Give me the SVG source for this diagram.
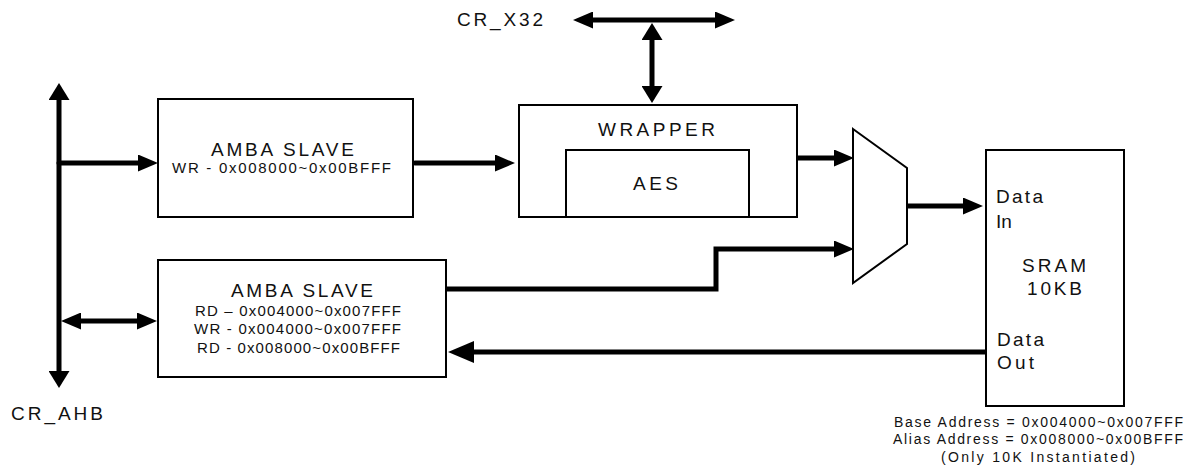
<svg xmlns="http://www.w3.org/2000/svg" width="1198" height="467" viewBox="0 0 1198 467">
<style>
.box{fill:#fff;stroke:#000;stroke-width:2}
.t{font-family:"Liberation Sans",Arial,sans-serif;fill:#111}
.big{font-size:19px}
.small{font-size:15px}
.note{font-size:14px}
.w{fill:none;stroke:#000;stroke-width:5;stroke-linecap:round;stroke-linejoin:miter}
</style>
<defs>
<marker id="a1" markerWidth="20" markerHeight="17" refX="10" refY="8.5" orient="auto-start-reverse" markerUnits="userSpaceOnUse"><path d="M0,0 L20,8.5 L0,17 z" fill="#000"/></marker>
<marker id="a2" markerWidth="17" markerHeight="21" refX="7" refY="10.5" orient="auto-start-reverse" markerUnits="userSpaceOnUse"><path d="M0,0 L17,10.5 L0,21 z" fill="#000"/></marker>
<marker id="a3" markerWidth="26" markerHeight="22" refX="16" refY="11" orient="auto-start-reverse" markerUnits="userSpaceOnUse"><path d="M0,0 L26,11 L0,22 z" fill="#000"/></marker>
</defs>

<g id="connectors">
<path class="w" d="M59,93 V378" marker-start="url(#a2)" marker-end="url(#a2)"/>
<path class="w" d="M583,20 H725" marker-start="url(#a1)" marker-end="url(#a1)"/>
<path class="w" d="M652,33 V93" marker-start="url(#a2)" marker-end="url(#a2)"/>
<path class="w" d="M59,163 H148" marker-end="url(#a1)"/>
<path class="w" d="M415,163 H505" marker-end="url(#a1)"/>
<path class="w" d="M796,158 H844" marker-end="url(#a1)"/>
<path class="w" d="M444,289 H716 V249 H844" marker-end="url(#a1)"/>
<path class="w" d="M907,206 H973" marker-end="url(#a1)"/>
<path class="w" d="M71,321 H147" marker-start="url(#a1)" marker-end="url(#a1)"/>
<path class="w" d="M988,352 H458" marker-end="url(#a3)"/>
</g>

<g id="amba1">
<rect class="box" x="158" y="99" width="255" height="118"/>
<text class="t big" x="211" y="156" textLength="143" lengthAdjust="spacing">AMBA SLAVE</text>
<text class="t small" x="172" y="173" textLength="219" lengthAdjust="spacing">WR - 0x008000~0x00BFFF</text>
</g>

<g id="amba2">
<rect class="box" x="158" y="260" width="288" height="117"/>
<text class="t big" x="231" y="297" textLength="142" lengthAdjust="spacing">AMBA SLAVE</text>
<text class="t small" x="195" y="316" textLength="206" lengthAdjust="spacing">RD – 0x004000~0x007FFF</text>
<text class="t small" x="194" y="334" textLength="207" lengthAdjust="spacing">WR - 0x004000~0x007FFF</text>
<text class="t small" x="197" y="353" textLength="203" lengthAdjust="spacing">RD - 0x008000~0x00BFFF</text>
</g>

<g id="wrapper">
<rect class="box" x="519" y="105" width="278" height="112"/>
<text class="t big" x="598" y="136" textLength="117" lengthAdjust="spacing">WRAPPER</text>
</g>

<g id="aes">
<rect class="box" x="566" y="150" width="183" height="67"/>
<text class="t big" x="633" y="190" textLength="45" lengthAdjust="spacing">AES</text>
</g>

<g id="mux">
<polygon class="box" points="853,129 907,168 907,244 853,283"/>
</g>

<g id="sram">
<rect class="box" x="986" y="150" width="138" height="256"/>
<text class="t big" x="996" y="203" textLength="47" lengthAdjust="spacing">Data</text>
<text class="t big" x="996" y="228">In</text>
<text class="t big" x="1022" y="272" textLength="64" lengthAdjust="spacing">SRAM</text>
<text class="t big" x="1027" y="295" textLength="55" lengthAdjust="spacing">10KB</text>
<text class="t big" x="997" y="346" textLength="47" lengthAdjust="spacing">Data</text>
<text class="t big" x="997" y="369" textLength="37" lengthAdjust="spacing">Out</text>
</g>

<g id="labels">
<text class="t big" x="457" y="26" textLength="86" lengthAdjust="spacing">CR_X32</text>
<text class="t big" x="11" y="420" textLength="92" lengthAdjust="spacing">CR_AHB</text>
<text class="t note" x="894" y="427" textLength="289" lengthAdjust="spacing">Base Address = 0x004000~0x007FFF</text>
<text class="t note" x="893" y="444" textLength="290" lengthAdjust="spacing">Alias Address = 0x008000~0x00BFFF</text>
<text class="t note" x="941" y="462" textLength="194" lengthAdjust="spacing">(Only 10K Instantiated)</text>
</g>
</svg>
